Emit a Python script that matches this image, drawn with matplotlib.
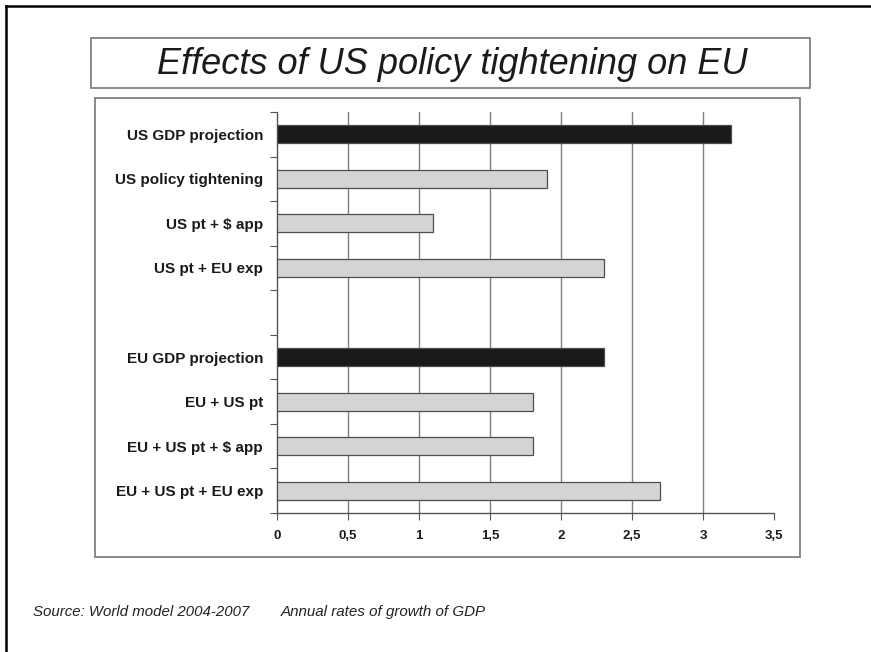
import numpy as np
import matplotlib.pyplot as plt
from matplotlib.patches import Rectangle
from matplotlib.lines import Line2D

plt.rcParams['font.family'] = ['Liberation Sans', 'DejaVu Sans']

# data (annual growth of GDP, %)
us_labels = ['US GDP projection', 'US policy tightening', 'US pt + $ app', 'US pt + EU exp']
us_values = [3.2, 1.9, 1.1, 2.3]
eu_labels = ['EU GDP projection', 'EU + US pt', 'EU + US pt + $ app', 'EU + US pt + EU exp']
eu_values = [2.3, 1.8, 1.8, 2.7]
x_ticks = [0, 0.5, 1, 1.5, 2, 2.5, 3, 3.5]

# one empty row between the two groups
labels = us_labels + [''] + eu_labels
values = us_values + [np.nan] + eu_values
ypos = np.arange(len(labels))
colors = []
for grp in (us_labels, eu_labels):
    colors += ['#1a1a1a'] + ['#d4d4d4'] * (len(grp) - 1)
    if grp is us_labels:
        colors += ['none']

fig = plt.figure(figsize=(8.71, 6.52), dpi=100)
W, H = 871.0, 652.0

def fbox(x0, y0, x1, y1, **kw):
    # rectangle given in pixel coords from top-left
    r = Rectangle((x0 / W, 1 - y1 / H), (x1 - x0) / W, (y1 - y0) / H,
                  transform=fig.transFigure, fill=False, **kw)
    fig.add_artist(r)

# outer frame (left and top only) + title box + chart box
fig.add_artist(Line2D([6 / W, 6 / W], [0, 1 - 6 / H], transform=fig.transFigure, color='black', lw=1.8))
fig.add_artist(Line2D([6 / W, 1], [1 - 6 / H, 1 - 6 / H], transform=fig.transFigure, color='black', lw=1.8))
fbox(91, 38, 810, 88, edgecolor='#808080', lw=1.3)
fbox(95, 98, 800, 557, edgecolor='#808080', lw=1.3)

fig.text(452 / W, 1 - 64 / H, 'Effects of US policy tightening on EU', ha='center', va='center',
         fontsize=26, style='italic', color='#1a1a1a')

ax = fig.add_axes([277 / W, 1 - 513 / H, (774 - 277) / W, (513 - 112) / H])
ax.barh(ypos, values, height=0.4, color=colors, edgecolor='#4d4d4d', linewidth=0.9, zorder=3)

ax.set_xlim(0, 3.5)
ax.set_ylim(len(labels) - 0.5, -0.5)
ax.set_xticks(x_ticks)
ax.set_xticklabels([('%g' % v).replace('.', ',') for v in x_ticks], fontsize=9.5,
                   fontweight='bold', va='baseline', color='#1a1a1a')
ax.set_yticks(np.arange(len(labels) + 1) - 0.5)
ax.set_yticklabels([])
ax.set_yticks(ypos, minor=True)
ax.set_yticklabels(labels, minor=True, fontsize=11, fontweight='bold', color='#1a1a1a')
ax.tick_params(axis='y', which='minor', length=0, pad=10)
ax.tick_params(axis='y', which='major', length=5, color='#555555')
ax.tick_params(axis='x', length=5, color='#555555', pad=13.5)

ax.xaxis.grid(True, color='#7f7f7f', linewidth=1.0, zorder=0)
ax.get_xgridlines()[-1].set_visible(False)
ax.get_xgridlines()[0].set_visible(False)
for s in ('top', 'right'):
    ax.spines[s].set_visible(False)
for s in ('left', 'bottom'):
    ax.spines[s].set_color('#555555')
    ax.spines[s].set_linewidth(1.0)
ax.set_facecolor('none')

fig.text(33 / W, 1 - 612 / H, 'Source: World model 2004-2007', fontsize=10.8, style='italic',
         va='center', color='#222222')
fig.text(281 / W, 1 - 612 / H, 'Annual rates of growth of GDP', fontsize=10.9, style='italic',
         va='center', color='#222222')

fig.savefig('out.png', dpi=100)
